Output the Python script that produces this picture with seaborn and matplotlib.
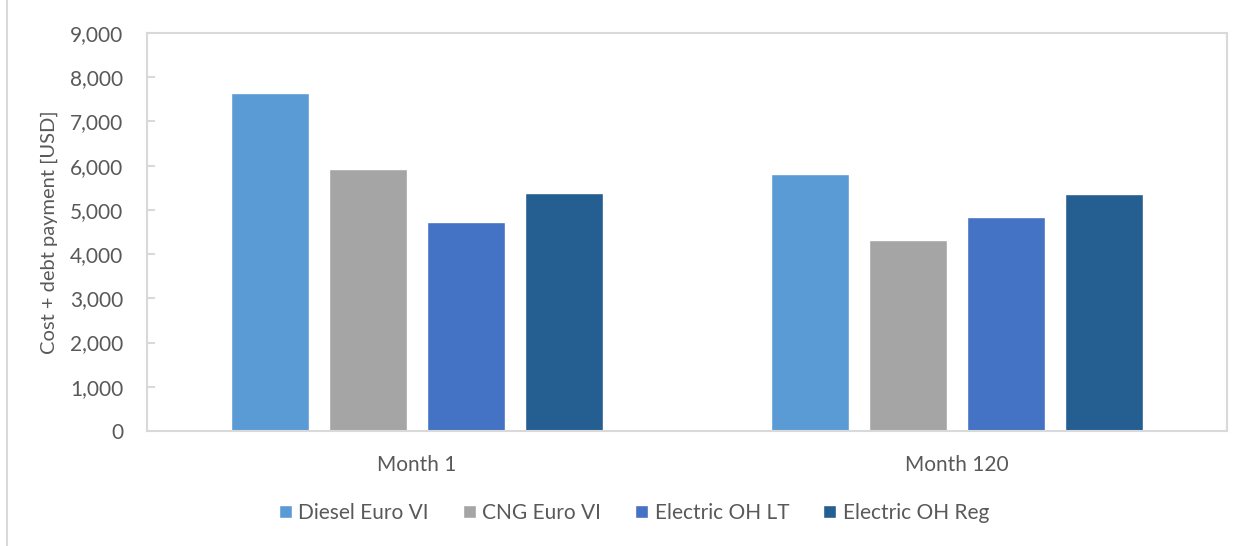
import matplotlib
matplotlib.use("Agg")
import matplotlib.pyplot as plt
import matplotlib.ticker as mticker
from matplotlib.lines import Line2D
import seaborn as sns
import pandas as pd

categories = ["Month 1", "Month 120"]
series_names = ["Diesel Euro VI", "CNG Euro VI", "Electric OH LT", "Electric OH Reg"]
diesel = [7640, 5805]
cng = [5935, 4320]
electric_lt = [4730, 4840]
electric_reg = [5375, 5360]
colors = ["#5B9BD5", "#A5A5A5", "#4472C4", "#255E91"]

rows = []
for name, vals in zip(series_names, [diesel, cng, electric_lt, electric_reg]):
    for cat, v in zip(categories, vals):
        rows.append({"Period": cat, "Vehicle": name, "Value": v})
df = pd.DataFrame(rows)

sns.set_theme(style="white")
plt.rcParams["font.family"] = ["Lato", "DejaVu Sans"]
text_color = "#595959"
frame_color = "#D9D9D9"

fig = plt.figure(figsize=(12.49, 5.46), dpi=100)
ax = fig.add_axes([147 / 1249, 1 - 431 / 546, (1227 - 147) / 1249, (431 - 33) / 546])

sns.barplot(data=df, x="Period", y="Value", hue="Vehicle", order=categories,
            hue_order=series_names, palette=colors, width=0.726, gap=0.214,
            saturation=1, ax=ax, legend=True, errorbar=None)

ax.set_ylim(0, 9000)
ax.set_xlim(-0.5, 1.5)
ax.yaxis.set_major_locator(mticker.MultipleLocator(1000))
ax.yaxis.set_major_formatter(mticker.FuncFormatter(lambda v, p: f"{int(v):,}"))
ax.set_xlabel("")
ax.set_ylabel("Cost + debt payment [USD]", fontsize=14.5, color=text_color, labelpad=9)
ax.tick_params(axis="y", direction="in", length=6, width=1.5, color=frame_color,
               labelsize=15, labelcolor=text_color, pad=17, left=True)
ax.tick_params(axis="x", length=0, labelsize=15, labelcolor=text_color, pad=17)
for s in ax.spines.values():
    s.set_visible(True)
    s.set_color(frame_color)
    s.set_linewidth(1.5)

handles, labels = ax.get_legend_handles_labels()
ax.get_legend().remove()
fig.legend(handles, labels, loc="center", bbox_to_anchor=(634 / 1249, 1 - 513 / 546),
           ncol=4, frameon=False, fontsize=15, labelcolor=text_color,
           handlelength=0.62, handleheight=0.62, handletextpad=0.3, columnspacing=1.65)

fig.add_artist(Line2D([7 / 1249, 7 / 1249], [0, 1], transform=fig.transFigure,
                      color=frame_color, linewidth=1.5))

fig.savefig("out.png", dpi=100)
